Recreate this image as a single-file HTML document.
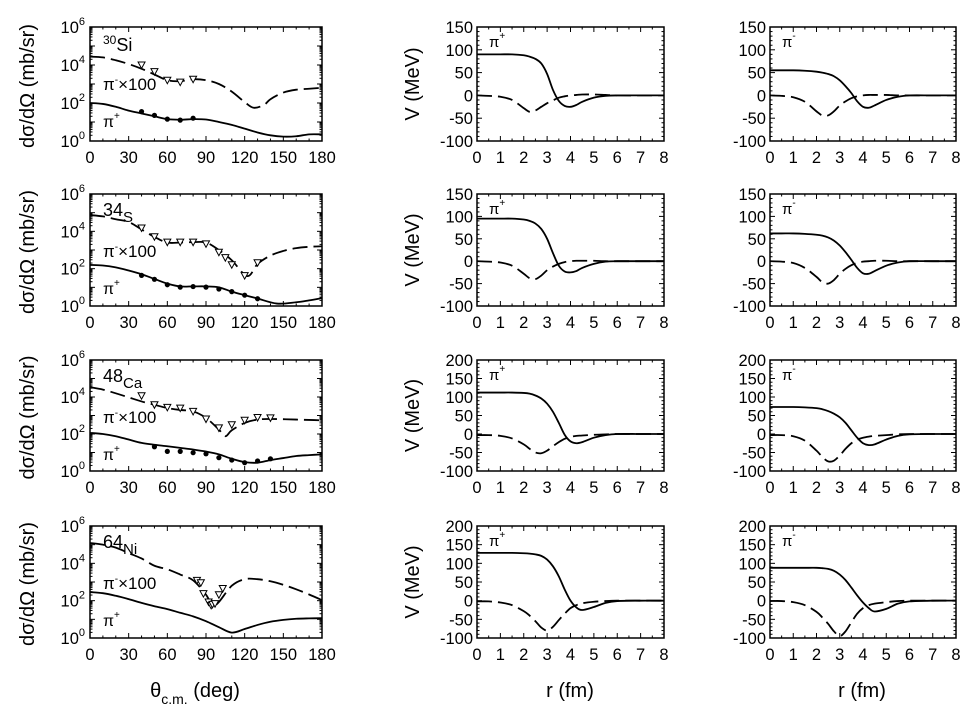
<!DOCTYPE html>
<html><head><meta charset="utf-8">
<style>
body{margin:0;background:#fff;}
svg{display:block;font-family:"Liberation Sans",Arial,sans-serif;}
</style></head>
<body>
<svg id="fig" width="975" height="713" viewBox="0 0 975 713" xmlns="http://www.w3.org/2000/svg"></svg>
<script>
// ---------- cross-section data (log10 of dσ/dΩ in mb/sr) ----------
const nuclei = ["30Si","34S","48Ca","64Ni"];
const nucMass = ["30","34","48","64"];
const nucSym = ["Si","S","Ca","Ni"];
const csAngM = [
 [0,10,20,30,40,50,60,70,80,90,100,110,120,127,135,140,150,160,170,180],
 [0,10,20,30,40,50,60,70,80,90,100,110,122,130,140,150,160,170,180],
 [0,10,20,30,40,50,60,70,80,90,100,105,110,120,130,140,150,160,170,180],
 [0,10,20,30,40,50,60,70,80,90,95,100,110,120,130,140,150,160,170,180]
];
const csLogM = [
 [4.44,4.4,4.25,4.05,3.8,3.5,3.2,3.15,3.25,3.2,3.0,2.6,2.05,1.75,1.9,2.2,2.55,2.7,2.75,2.8],
 [4.87,4.8,4.65,4.5,4.1,3.7,3.4,3.4,3.42,3.4,3.0,2.45,1.6,2.25,2.7,2.95,3.1,3.17,3.2],
 [4.53,4.4,4.2,3.98,3.76,3.58,3.4,3.3,3.22,2.87,2.24,1.88,2.2,2.6,2.78,2.81,2.8,2.78,2.76,2.74],
 [5.09,5.0,4.84,4.55,4.26,3.87,3.68,3.4,3.09,2.32,1.74,1.93,2.8,3.15,3.15,3.04,2.85,2.61,2.33,2.03]
];
const csAngP = [
 [0,10,20,30,40,50,60,70,80,90,100,110,120,130,140,150,160,170,180],
 [0,10,20,30,40,50,60,70,80,90,100,110,120,130,145,160,170,180],
 [0,10,20,30,40,50,60,70,80,90,100,110,120,130,140,150,160,170,180],
 [0,10,20,30,40,50,60,70,80,90,100,110,120,130,140,150,160,170,180]
];
const csLogP = [
 [2.0,1.95,1.8,1.6,1.45,1.3,1.15,1.12,1.15,1.13,1.0,0.85,0.65,0.45,0.3,0.23,0.25,0.35,0.35],
 [2.2,2.17,2.07,1.9,1.7,1.45,1.2,1.05,1.05,1.05,1.0,0.77,0.58,0.4,0.13,0.2,0.3,0.42],
 [2.06,2.0,1.88,1.7,1.52,1.42,1.34,1.25,1.16,1.05,0.9,0.66,0.48,0.45,0.59,0.7,0.81,0.86,0.9],
 [2.46,2.4,2.26,2.08,1.88,1.7,1.55,1.35,1.16,0.9,0.58,0.29,0.48,0.7,0.87,0.97,1.03,1.05,1.06]
];
const expAngM = [
 [40,50,60,70,80],
 [40,50,60,70,80,90,100,105,110,120,130],
 [40,50,60,70,80,90,100,110,120,130,140],
 [83,86,88,92,94,95,97,100,103]
];
const expLogM = [
 [4.0,3.65,3.2,3.1,3.25],
 [4.18,3.71,3.42,3.42,3.42,3.33,2.88,2.59,2.21,1.63,2.32],
 [4.07,3.58,3.44,3.4,3.22,2.81,2.33,2.5,2.74,2.89,2.87],
 [3.09,2.96,2.38,1.93,1.75,1.8,1.84,2.32,2.65]
];
const expAngP = [
 [40,50,60,70,80],
 [40,50,60,70,80,90,100,110,120,130],
 [50,60,70,80,90,100,110,120,130,140],
 []
];
const expLogP = [
 [1.55,1.35,1.15,1.1,1.2],
 [1.64,1.43,1.14,1.01,1.04,1.01,0.91,0.77,0.58,0.39],
 [1.31,1.06,1.06,0.99,0.93,0.72,0.59,0.45,0.54,0.66],
 []
];
const csXTicks = [0,30,60,90,120,150,180];
const csYTickExp = [0,2,4,6];

// ---------- potential data (MeV) ----------
const rGrid = [0,0.5,1,1.5,2,2.25,2.5,2.75,3,3.25,3.5,3.75,4,4.25,4.5,5,5.5,6,7,8];
const potSolidP = [
 [90,90,90,90,88,85,80,70,47,12,-12,-23,-25,-21,-14,-5,-1,0,0,0],
 [95,95,95,95,93,90,84,72,50,18,-10,-23,-25,-22,-15,-6,-1,0,0,0],
 [112,112,112,112,111,109,104,96,82,60,30,-2,-20,-25,-22,-10,-3,0,0,0],
 [128,128,128,128,127,126,124,120,110,92,65,30,0,-18,-25,-17,-6,-1,0,0]
];
const potDashP = [
 [0,-1,-3,-10,-28,-36,-33,-25,-17,-11,-5,-2,0,1,2,2,1,0,0,0],
 [0,-1,-3,-10,-28,-38,-40,-32,-20,-12,-6,-2,0,1,1,1,0,0,0,0],
 [-3,-3,-5,-12,-28,-40,-50,-52,-45,-33,-22,-13,-8,-5,-4,-2,-1,0,0,0],
 [-2,-2,-5,-12,-28,-40,-55,-72,-80,-70,-52,-35,-20,-12,-7,-3,-1,0,0,0]
];
const potSolidM = [
 [55,55,55,54,52,50,47,42,33,20,5,-13,-25,-27,-22,-10,-3,0,0,0],
 [62,62,62,61,59,57,53,46,35,20,3,-15,-27,-28,-22,-10,-3,0,0,0],
 [73,73,73,72,70,67,62,55,45,30,10,-10,-25,-30,-28,-15,-5,-1,0,0],
 [88,88,88,88,88,87,85,80,70,55,35,14,-5,-20,-29,-22,-8,-2,0,0]
];
const potDashM = [
 [0,-1,-4,-14,-35,-44,-44,-35,-22,-13,-6,-2,0,1,1,1,0,0,0,0],
 [0,-1,-4,-15,-35,-47,-50,-42,-28,-17,-9,-4,-1,0,1,1,0,0,0,0],
 [-3,-3,-6,-18,-45,-62,-74,-72,-58,-40,-25,-15,-10,-7,-5,-3,-1,0,0,0],
 [-1,-1,-4,-12,-30,-45,-62,-82,-95,-82,-58,-35,-20,-12,-8,-4,-1,0,0,0]
];
const potYMax = [150,150,200,200];
const potXTicks = [0,1,2,3,4,5,6,7,8];

// ---------- layout ----------
const NS = "http://www.w3.org/2000/svg";
const svg = document.getElementById('fig');
const rows = [[27,141],[194,306],[360,471],[526,638]];
const cols = [[90,322],[477,664],[770,956]];
const TICK_FS = 16.5;

function el(tag, attrs, parent){
  const e = document.createElementNS(NS, tag);
  for (const k in attrs) e.setAttribute(k, attrs[k]);
  (parent||svg).appendChild(e);
  return e;
}
function smoothPath(pts){
  let d = "M"+pts[0][0].toFixed(2)+","+pts[0][1].toFixed(2);
  for (let i=0;i<pts.length-1;i++){
    const p0=pts[Math.max(0,i-1)], p1=pts[i], p2=pts[i+1], p3=pts[Math.min(pts.length-1,i+2)];
    const c1x=p1[0]+(p2[0]-p0[0])/6, c1y=p1[1]+(p2[1]-p0[1])/6;
    const c2x=p2[0]-(p3[0]-p1[0])/6, c2y=p2[1]-(p3[1]-p1[1])/6;
    d+=" C"+c1x.toFixed(2)+","+c1y.toFixed(2)+" "+c2x.toFixed(2)+","+c2y.toFixed(2)+" "+p2[0].toFixed(2)+","+p2[1].toFixed(2);
  }
  return d;
}
function text(str, x, y, size, anchor, parent){
  const t = el('text', {x:x, y:y, 'font-size':size, 'text-anchor':anchor||'start', fill:'#000'}, parent);
  t.textContent = str;
  return t;
}

for (let r=0;r<4;r++){
  const [y0,y1] = rows[r];
  // ===== cross-section panel =====
  {
    const [x0,x1] = cols[0];
    const g = el('g', {});
    
    
    const sx = a => x0 + (x1-x0)*a/180;
    const sy = l => y1 - (y1-y0)*l/6;
    for (let d=0; d<6; d++){
      for (let m=1;m<10;m++){
        const l = d+Math.log10(m);
        const len = (m===1)?5:2.5;
        el('line',{x1:x0,x2:x0+len,y1:sy(l),y2:sy(l),stroke:'#000','stroke-width':1},g);
        el('line',{x1:x1,x2:x1-len,y1:sy(l),y2:sy(l),stroke:'#000','stroke-width':1},g);
      }
    }
    for (let a=0;a<=180;a+=10){
      const len = (a%30===0)?5:2.5;
      el('line',{x1:sx(a),x2:sx(a),y1:y1,y2:y1-len,stroke:'#000','stroke-width':1},g);
      el('line',{x1:sx(a),x2:sx(a),y1:y0,y2:y0+len,stroke:'#000','stroke-width':1},g);
    }
    csXTicks.forEach(a=>{
      const t = text(String(a), sx(a), y1+22, TICK_FS, 'middle', g);
      
      
    });
    csYTickExp.forEach(e=>{
      const t = el('text',{x:x0-5,y:sy(e)+6,'font-size':TICK_FS,'text-anchor':'end',fill:'#000'},g);
      t.innerHTML = '10<tspan dy="-8" font-size="11">'+e+'</tspan>';
      
      
    });
    const pm = csAngM[r].map((a,i)=>[sx(a), sy(csLogM[r][i])]);
    const cm = el('path',{d:smoothPath(pm),fill:'none',stroke:'#000','stroke-width':1.8,'stroke-dasharray':'15,6'},g);
    
    
    const pp = csAngP[r].map((a,i)=>[sx(a), sy(csLogP[r][i])]);
    const cp = el('path',{d:smoothPath(pp),fill:'none',stroke:'#000','stroke-width':1.8},g);
    
    
    expAngM[r].forEach((a,i)=>{
      const cx=sx(a), cy=sy(expLogM[r][i]);
      const p = el('path',{d:`M${cx-3.5},${cy-3} L${cx+3.5},${cy-3} L${cx},${cy+3.5} Z`,fill:'#fff',stroke:'#000','stroke-width':1},g);
      
      
    });
    expAngP[r].forEach((a,i)=>{
      const c = el('circle',{cx:sx(a),cy:sy(expLogP[r][i]),r:2.6,fill:'#000'},g);
      
      
    });
    el('rect',{x:x0,y:y0,width:x1-x0,height:y1-y0,fill:'none',stroke:'#000','stroke-width':1.5},g);
    const nl = el('text',{x:x0+13,y:y0+(r===0?24:22),'font-size':18,fill:'#000'},g);
    if (r===0) nl.innerHTML = '<tspan dy="-7" font-size="12">'+nucMass[r]+'</tspan><tspan dy="7">'+nucSym[r]+'</tspan>';
    else nl.innerHTML = nucMass[r]+'<tspan dy="6" font-size="15">'+nucSym[r]+'</tspan>';
    
    
    const lm = el('text',{x:x0+13,y:y0+63,'font-size':17,fill:'#000'},g);
    lm.innerHTML = 'π<tspan dy="-7" font-size="10">-</tspan><tspan dy="7">×100</tspan>';
    
    
    const lp = el('text',{x:x0+13,y:y0+100,'font-size':16,fill:'#000'},g);
    lp.innerHTML = 'π<tspan dy="-8" font-size="10">+</tspan>';
    
    
    const yt = el('text',{x:0,y:0,'font-size':20,'text-anchor':'middle',fill:'#000',transform:`translate(34,${(y0+y1)/2+2}) rotate(-90)`},g);
    yt.textContent = 'dσ/dΩ (mb/sr)';
    
    
  }
  // ===== potential panels =====
  for (let c=1;c<=2;c++){
    const [x0,x1] = cols[c];
    const ymax = potYMax[r], ymin=-100;
    const g = el('g', {});
    
    
    const sx = v => x0 + (x1-x0)*v/8;
    const sy = v => y1 - (y1-y0)*(v-ymin)/(ymax-ymin);
    for (let v=ymin; v<=ymax; v+=10){
      const len = (v%50===0)?5:2.5;
      el('line',{x1:x0,x2:x0+len,y1:sy(v),y2:sy(v),stroke:'#000','stroke-width':1},g);
      el('line',{x1:x1,x2:x1-len,y1:sy(v),y2:sy(v),stroke:'#000','stroke-width':1},g);
    }
    for (let v=0; v<=8; v+=0.5){
      const len = (v%1===0)?5:2.5;
      el('line',{x1:sx(v),x2:sx(v),y1:y1,y2:y1-len,stroke:'#000','stroke-width':1},g);
      el('line',{x1:sx(v),x2:sx(v),y1:y0,y2:y0+len,stroke:'#000','stroke-width':1},g);
    }
    potXTicks.forEach(v=>{
      const t = text(String(v), sx(v), y1+22, TICK_FS, 'middle', g);
      
      
    });
    for (let v=ymin; v<=ymax; v+=50){
      const t = text(String(v), x0-4, sy(v)+6, TICK_FS, 'end', g);
      
      
    }
    const sol = c===1?potSolidP[r]:potSolidM[r];
    const das = c===1?potDashP[r]:potDashM[r];
    const ps = el('path',{d:smoothPath(rGrid.map((v,i)=>[sx(v),sy(sol[i])])),fill:'none',stroke:'#000','stroke-width':1.8},g);
    
    
    const pd = el('path',{d:smoothPath(rGrid.map((v,i)=>[sx(v),sy(das[i])])),fill:'none',stroke:'#000','stroke-width':1.8,'stroke-dasharray':'15,6'},g);
    
    
    el('rect',{x:x0,y:y0,width:x1-x0,height:y1-y0,fill:'none',stroke:'#000','stroke-width':1.5},g);
    const pl = el('text',{x:x0+12,y:y0+20,'font-size':15,fill:'#000'},g);
    pl.innerHTML = 'π<tspan dy="-8" font-size="10">'+(c===1?'+':'-')+'</tspan>';
    
    
    if (c===1){
      const yt = el('text',{x:0,y:0,'font-size':20,'text-anchor':'middle',fill:'#000',transform:`translate(419,${(y0+y1)/2}) rotate(-90)`},g);
      yt.textContent = 'V (MeV)';
      
      
    }
  }
}
const xt1 = el('text',{x:195,y:697,'font-size':20,'text-anchor':'middle',fill:'#000'});
xt1.innerHTML = 'θ<tspan dy="7" font-size="14">c.m.</tspan><tspan dy="-7"> (deg)</tspan>';


const xt2 = text('r (fm)', 570, 697, 20, 'middle');


const xt3 = text('r (fm)', 862, 697, 20, 'middle');


</script>
</body></html>
